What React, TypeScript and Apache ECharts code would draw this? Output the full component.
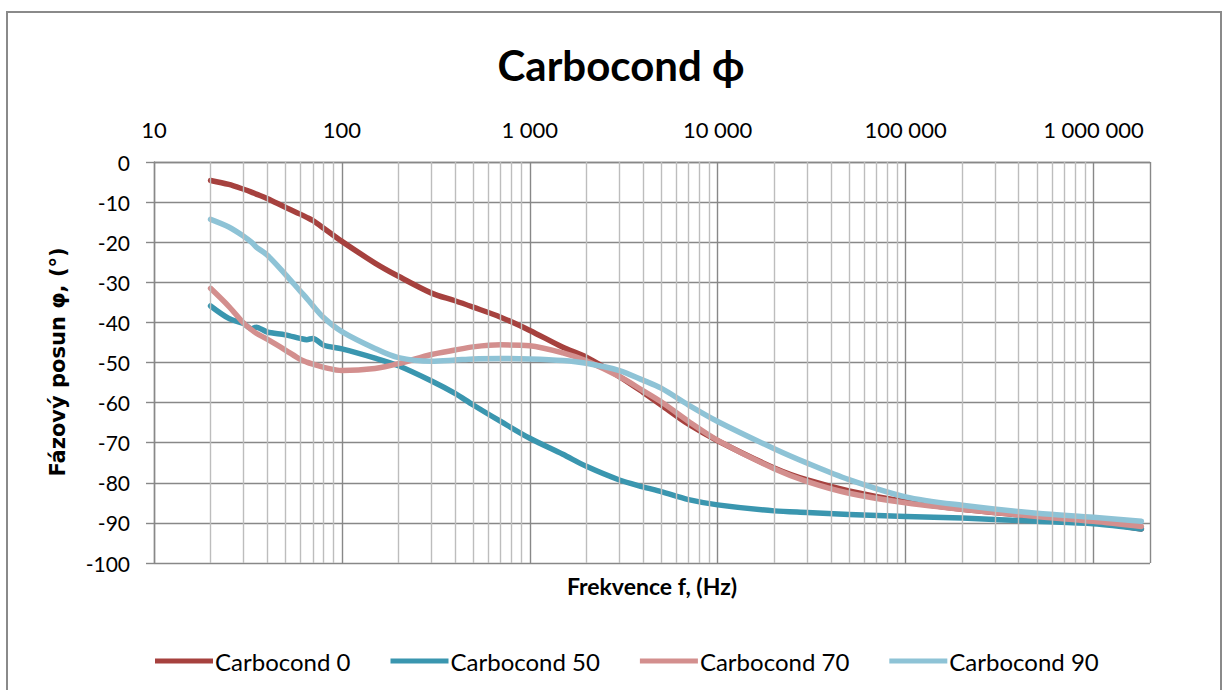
import React, { useEffect, useRef } from "react";
import * as echarts from "echarts";

const freq = [20, 25, 30, 33, 35, 40, 50, 60, 65, 70, 80, 100, 150, 200, 300, 400, 500, 700, 1000, 1500, 2000, 3000, 4000, 5000, 7000, 10000, 20000, 30000, 50000, 100000, 200000, 500000, 1000000, 1800000];

const carbocond0 = [-4.6, -5.6, -6.8, -7.5, -8.0, -9.1, -11.3, -13.0, -13.8, -14.6, -16.5, -19.8, -25.2, -28.5, -32.7, -34.6, -36.2, -38.7, -42.0, -46.2, -48.7, -53.5, -57.4, -60.6, -65.4, -69.5, -76.3, -79.3, -82.0, -84.7, -86.6, -88.4, -89.7, -91.5];
const carbocond50 = [-35.9, -39.0, -40.3, -41.6, -41.2, -42.4, -43.1, -44.0, -44.3, -44.0, -45.7, -46.6, -48.9, -50.8, -54.6, -57.7, -60.6, -64.7, -68.9, -72.9, -75.9, -79.3, -81.0, -82.2, -84.2, -85.5, -87.0, -87.4, -87.9, -88.4, -88.8, -89.6, -90.2, -91.5];
const carbocond70 = [-31.5, -36.0, -40.2, -41.8, -42.7, -44.2, -46.9, -49.2, -49.9, -50.4, -51.2, -52.0, -51.5, -50.3, -48.0, -46.9, -46.1, -45.6, -45.8, -47.6, -49.6, -53.5, -57.0, -59.8, -64.7, -69.4, -76.5, -79.7, -82.6, -85.0, -86.6, -88.4, -89.6, -90.9];
const carbocond90 = [-14.3, -16.2, -18.5, -20.0, -21.2, -23.2, -28.0, -32.2, -34.0, -35.8, -38.8, -42.3, -46.5, -48.8, -49.7, -49.4, -49.1, -49.0, -49.1, -49.5, -50.2, -52.0, -54.4, -56.4, -60.6, -64.7, -71.5, -75.1, -79.2, -83.5, -85.6, -87.6, -88.6, -89.6];

const seriesNames = ["Carbocond 0", "Carbocond 50", "Carbocond 70", "Carbocond 90"];
const seriesValues = [carbocond0, carbocond50, carbocond70, carbocond90];
const seriesColors = ["#A6413E", "#3A96AF", "#D38F8E", "#8EC3D6"];

const xMin = 10;
const xMax = 2000000;
const yTickLabels = [0, -10, -20, -30, -40, -50, -60, -70, -80, -90, -100];

function minorGridValues(): number[] {
  const out: number[] = [];
  for (let d = xMin; d < xMax; d *= 10) {
    for (let k = 2; k <= 9; k++) {
      const v = d * k;
      if (v < xMax) out.push(v);
    }
  }
  return out;
}

const FONT = "Lato, 'Open Sans', sans-serif";

export default function App() {
  const ref = useRef<HTMLDivElement>(null);
  useEffect(() => {
    if (!ref.current) return;
    const chart = echarts.init(ref.current, null, { renderer: "svg" });
    const series: any[] = seriesNames.map((name, i) => ({
      name,
      type: "line",
      smooth: 0.3,
      symbol: "none",
      z: 3,
      lineStyle: { color: seriesColors[i], width: 5.5, cap: "round", join: "round" },
      itemStyle: { color: seriesColors[i] },
      data: freq.map((f, j) => [f, seriesValues[i][j]]),
    }));
    series.unshift({
      name: "minorGrid",
      type: "line",
      symbol: "none",
      silent: true,
      z: 1,
      data: [[xMin, 0]],
      lineStyle: { width: 0 },
      markLine: {
        silent: true,
        symbol: ["none", "none"],
        label: { show: false },
        animation: false,
        lineStyle: { type: "solid", color: "#BDBDBD", width: 1.4 },
        data: minorGridValues().map((v) => ({ xAxis: v })),
      },
    });
    chart.setOption({
      animation: false,
      backgroundColor: "#ffffff",
      grid: { left: 154, right: 81, top: 162, bottom: 127, containLabel: false },
      xAxis: {
        type: "log",
        logBase: 10,
        min: xMin,
        max: xMax,
        position: "top",
        axisLine: { show: true, lineStyle: { color: "#888888", width: 1.4 } },
        axisTick: { show: false },
        splitLine: { show: true, lineStyle: { color: "#888888", width: 1.4 } },
        axisLabel: {
          margin: 22,
          fontFamily: FONT,
          fontSize: 22,
          color: "#000",
          showMaxLabel: false,
          formatter: (v: number) => Math.round(v).toString().replace(/\B(?=(\d{3})+(?!\d))/g, " "),
        },
      },
      yAxis: {
        type: "value",
        min: -100,
        max: 0,
        interval: 10,
        axisLine: { show: true, lineStyle: { color: "#888888", width: 1.4 } },
        axisTick: { show: true, inside: false, length: 8, lineStyle: { color: "#888888", width: 1.4 } },
        splitLine: { show: true, lineStyle: { color: "#888888", width: 1.4 } },
        axisLabel: {
          margin: 24,
          fontFamily: FONT,
          fontSize: 21,
          color: "#000",
          formatter: (v: number) => (yTickLabels.indexOf(v) >= 0 ? String(v) : ""),
        },
      },
      legend: {
        data: seriesNames,
        left: 150,
        top: 644,
        icon: "rect",
        itemWidth: 58,
        itemHeight: 5,
        itemGap: 40,
        textStyle: { fontFamily: FONT, fontSize: 24, color: "#000", padding: [0, 0, 0, -3] },
      },
      graphic: [
        {
          type: "rect",
          shape: { x: 7, y: 12, width: 1214, height: 700 },
          style: { fill: "none", stroke: "#8A8A8A", lineWidth: 2 },
          silent: true,
        },
        {
          type: "text",
          x: 621,
          y: 65,
          style: {
            text: "Carbocond ϕ",
            fill: "#000",
            font: `bold 42px ${FONT}`,
            textAlign: "center",
            textVerticalAlign: "middle",
          },
        },
        {
          type: "text",
          x: 652,
          y: 586,
          style: {
            text: "Frekvence f, (Hz)",
            fill: "#000",
            font: `bold 23px ${FONT}`,
            textAlign: "center",
            textVerticalAlign: "middle",
          },
        },
        {
          type: "text",
          x: 58,
          y: 362,
          rotation: Math.PI / 2,
          style: {
            text: "Fázový posun φ, (°)",
            fill: "#000",
            font: `bold 21px 'DejaVu Sans', sans-serif`,
            textAlign: "center",
            textVerticalAlign: "middle",
          },
        },
      ],
      series,
    });
    return () => chart.dispose();
  }, []);
  return (
    <div
      ref={ref}
      style={{ position: "fixed", left: 0, top: 0, width: 1231, height: 690, background: "#fff" }}
    />
  );
}
